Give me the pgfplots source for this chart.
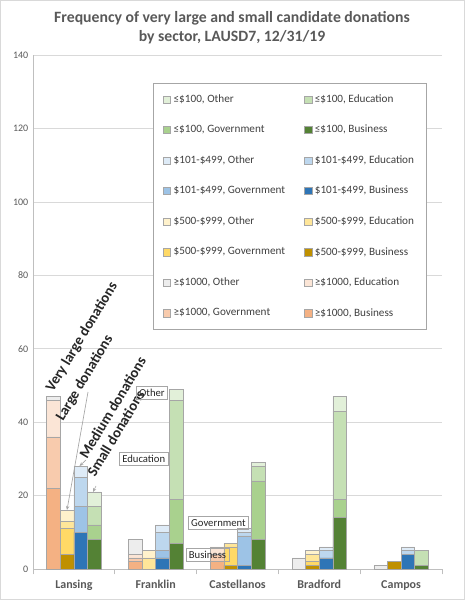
\documentclass[border=0pt]{standalone}
\usepackage{pgfplots}
\pgfplotsset{compat=1.18}
\usepackage{pgfplotstable}
\usepackage{fontspec}
\setmainfont{Carlito}
\usetikzlibrary{arrows.meta}

\definecolor{vlB}{HTML}{F4B183}
\definecolor{vlG}{HTML}{F8CBAD}
\definecolor{vlE}{HTML}{FBE5D6}
\definecolor{vlO}{HTML}{EDEDED}
\definecolor{lgB}{HTML}{BF9000}
\definecolor{lgG}{HTML}{FFD966}
\definecolor{lgE}{HTML}{FFE699}
\definecolor{lgO}{HTML}{FFF2CC}
\definecolor{mdB}{HTML}{2E75B6}
\definecolor{mdG}{HTML}{9DC3E6}
\definecolor{mdE}{HTML}{BDD7EE}
\definecolor{mdO}{HTML}{DEEBF7}
\definecolor{smB}{HTML}{548235}
\definecolor{smG}{HTML}{A9D18E}
\definecolor{smE}{HTML}{C5E0B4}
\definecolor{smO}{HTML}{E2F0D9}
\definecolor{txt}{HTML}{595959}
\definecolor{leg}{HTML}{404040}
\definecolor{bord}{HTML}{A6A6A6}
\definecolor{gridc}{HTML}{D9D9D9}
\definecolor{axc}{HTML}{BFBFBF}
\definecolor{ann}{HTML}{262626}

% columns: x position, Business, Government, Education, Other
\pgfplotstableread{
x B G E O
-0.25 22 14 10 1
0.75 2 1 1 4
1.75 2 2 2 0
2.75 0 0 0 3
3.75 0 0 0 1
}\vlarge
\pgfplotstableread{
x B G E O
-0.0833 4 7 2 3
0.9167 0 0 3 2
1.9167 1 5 1 0
2.9167 1 1 2 1
3.9167 2 0 0 0
}\large
\pgfplotstableread{
x B G E O
0.0833 10 7 8 3
1.0833 3 2 5 2
2.0833 1 8 1 1
3.0833 3 0 2 1
4.0833 4 0 1 1
}\medium
\pgfplotstableread{
x B G E O
0.25 8 4 5 4
1.25 7 12 27 3
2.25 8 16 4 1
3.25 14 5 24 4
4.25 1 0 4 0
}\small

\pgfplotsset{
  base/.style={
    scale only axis, width=306.75pt, height=385.5pt,
    at={(24.75pt,23.25pt)}, anchor=south west,
    xmin=-0.5, xmax=4.5, ymin=0, ymax=140,
    ybar stacked, bar width=0.1667,
    every axis plot/.append style={draw=bord, line width=0.4pt, forget plot},
  },
}

\begin{document}
\begin{tikzpicture}
\begin{scope}[x=0.75pt,y=0.75pt]
\path[use as bounding box] (0,0) rectangle (465,600);
\draw[gridc, line width=0.6pt] (0.5,0.5) rectangle (464.5,599.5);
\node[font=\bfseries\fontsize{11.8}{14.5}\selectfont, text=txt, align=center] at (232,572.5)
  {Frequency of very large and small candidate donations\\by sector, LAUSD7, 12/31/19};
\end{scope}

\begin{axis}[base,
  axis lines*=left,
  axis line style={draw=axc, line width=0.6pt},
  ymajorgrids, grid style={draw=gridc, line width=0.5pt},
  ytick={0,20,...,140},
  xtick={0,1,2,3,4},
  xticklabels={Lansing,Franklin,Castellanos,Bradford,Campos},
  minor xtick={-0.5,0.5,1.5,2.5,3.5,4.5},
  major tick length=0pt, minor tick length=4pt,
  tick align=outside,
  minor tick style={draw=axc, line width=0.6pt},
  major tick style={draw=none},
  xticklabel style={font=\bfseries\fontsize{9}{11}\selectfont, text=txt, yshift=-5pt},
  yticklabel style={font=\fontsize{7.5}{9}\selectfont, text=txt},
  /pgf/number format/assume math mode=true,
  legend columns=2,
  legend cell align=left,
  legend image code/.code={\draw[#1,draw=bord,line width=0.4pt] (0pt,-2.7pt) rectangle (5.4pt,2.7pt);},
  legend style={at={(0.2934,0.9455)}, anchor=north west, draw=bord, fill=white,
    font=\fontsize{8.4}{10}\selectfont, text=leg, inner xsep=7.5pt, inner ysep=6.5pt,
    row sep=11.6pt, /tikz/every even column/.append style={column sep=12.5pt}},
]
\addplot[fill=vlB] table[x=x,y=B] {\vlarge};
\addplot[fill=vlG] table[x=x,y=G] {\vlarge};
\addplot[fill=vlE] table[x=x,y=E] {\vlarge};
\addplot[fill=vlO] table[x=x,y=O] {\vlarge};
\addlegendimage{fill=smO}\addlegendentry{≤\$100, Other}
\addlegendimage{fill=smE}\addlegendentry{≤\$100, Education}
\addlegendimage{fill=smG}\addlegendentry{≤\$100, Government}
\addlegendimage{fill=smB}\addlegendentry{≤\$100, Business}
\addlegendimage{fill=mdO}\addlegendentry{\$101-\$499, Other}
\addlegendimage{fill=mdE}\addlegendentry{\$101-\$499, Education}
\addlegendimage{fill=mdG}\addlegendentry{\$101-\$499, Government}
\addlegendimage{fill=mdB}\addlegendentry{\$101-\$499, Business}
\addlegendimage{fill=lgO}\addlegendentry{\$500-\$999, Other}
\addlegendimage{fill=lgE}\addlegendentry{\$500-\$999, Education}
\addlegendimage{fill=lgG}\addlegendentry{\$500-\$999, Government}
\addlegendimage{fill=lgB}\addlegendentry{\$500-\$999, Business}
\addlegendimage{fill=vlO}\addlegendentry{≥\$1000, Other}
\addlegendimage{fill=vlE}\addlegendentry{≥\$1000, Education}
\addlegendimage{fill=vlG}\addlegendentry{≥\$1000, Government}
\addlegendimage{fill=vlB}\addlegendentry{≥\$1000, Business}
\end{axis}

\begin{axis}[base, hide axis]
\addplot[fill=lgB] table[x=x,y=B] {\large};
\addplot[fill=lgG] table[x=x,y=G] {\large};
\addplot[fill=lgE] table[x=x,y=E] {\large};
\addplot[fill=lgO] table[x=x,y=O] {\large};
\end{axis}

\begin{axis}[base, hide axis]
\addplot[fill=mdB] table[x=x,y=B] {\medium};
\addplot[fill=mdG] table[x=x,y=G] {\medium};
\addplot[fill=mdE] table[x=x,y=E] {\medium};
\addplot[fill=mdO] table[x=x,y=O] {\medium};
\end{axis}

\begin{axis}[base, hide axis]
\addplot[fill=smB] table[x=x,y=B] {\small};
\addplot[fill=smG] table[x=x,y=G] {\small};
\addplot[fill=smE] table[x=x,y=E] {\small};
\addplot[fill=smO] table[x=x,y=O] {\small};
\end{axis}

\begin{scope}[x=0.75pt,y=0.75pt]
\tikzset{annt/.style={font=\bfseries\fontsize{11}{13}\selectfont, text=ann, anchor=base west, inner sep=0pt, rotate=59}}
\node[annt] at (53,207) {Very large donations};
\node[annt] at (63,178) {Large donations};
\node[annt] at (87,140) {Medium donations};
\node[annt] at (95,122) {Small donations};
\draw[bord, line width=0.5pt, -{Stealth[length=3pt,width=2.5pt]}] (88,208) -- (67,90);
\draw[bord, line width=0.5pt, -{Stealth[length=3pt,width=2.5pt]}] (86,140) -- (79.5,134);
\draw[bord, line width=0.5pt, -{Stealth[length=3pt,width=2.5pt]}] (96,114) -- (93,108);
\tikzset{lab/.style={draw=bord, line width=0.5pt, font=\fontsize{8}{9.6}\selectfont, text=ann, inner xsep=2.2pt, inner ysep=2pt}}
\node[lab] at (152,207.5) {Other};
\node[lab] at (143.7,141.3) {Education};
\node[lab] at (218.5,77) {Government};
\node[lab] at (207.5,45) {Business};
\end{scope}
\end{tikzpicture}
\end{document}
